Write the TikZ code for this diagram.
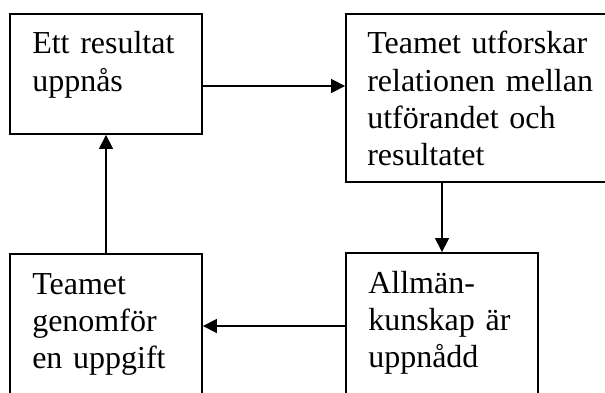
\documentclass[tikz,border=0pt]{standalone}
\usepackage{fontspec}
\setmainfont{Liberation Serif}
\usetikzlibrary{arrows.meta}
\tikzset{
  box/.style={draw, line width=1.4pt, rectangle, inner sep=0pt},
  lbl/.style={anchor=base west, inner sep=0pt, align=left, text width=220pt,
    font=\fontsize{24}{27.9}\selectfont},
  arr/.style={line width=1.2pt, -{Triangle[length=10.5pt, width=10.5pt]}},
  ln/.style={line width=1.2pt}
}
\begin{document}
\begin{tikzpicture}[x=0.75pt, y=-0.75pt]
\useasboundingbox (0,0) rectangle (605,392);
\clip (0,0) rectangle (605,392);
\fill[white] (0,0) rectangle (605,392);
% boxes
\node[box, minimum width=144pt, minimum height=90pt] (tl) at (106,74) {};
\node[box, minimum width=205.5pt, minimum height=126pt] (tr) at (483,98) {};
\node[box, minimum width=144pt, minimum height=117pt] (bl) at (106,332) {};
\node[box, minimum width=144pt, minimum height=117.75pt] (br) at (442,331.5) {};
% texts
\node[lbl] (t1) at (32,54) {Ett resultat\\uppnås};
\node[lbl] (t2) at (367,54) {Teamet utforskar\\relationen mellan\\utförandet och\\resultatet};
\node[lbl] (t3) at (32,294) {Teamet\\genomför\\en uppgift};
\node[lbl] (t4) at (368,293) {Allmän-\\kunskap är\\uppnådd};
% connectors
\coordinate (y1) at (0,86);
\coordinate (y2) at (0,326);
\draw[arr] (tl.east |- y1) -- (tr.west |- y1);
\draw[arr] (br.north |- tr.south) -- (br.north);
\draw[arr] (br.west |- y2) -- (bl.east |- y2);
\draw[arr] (bl.north) -- (tl.south);
\end{tikzpicture}
\end{document}
